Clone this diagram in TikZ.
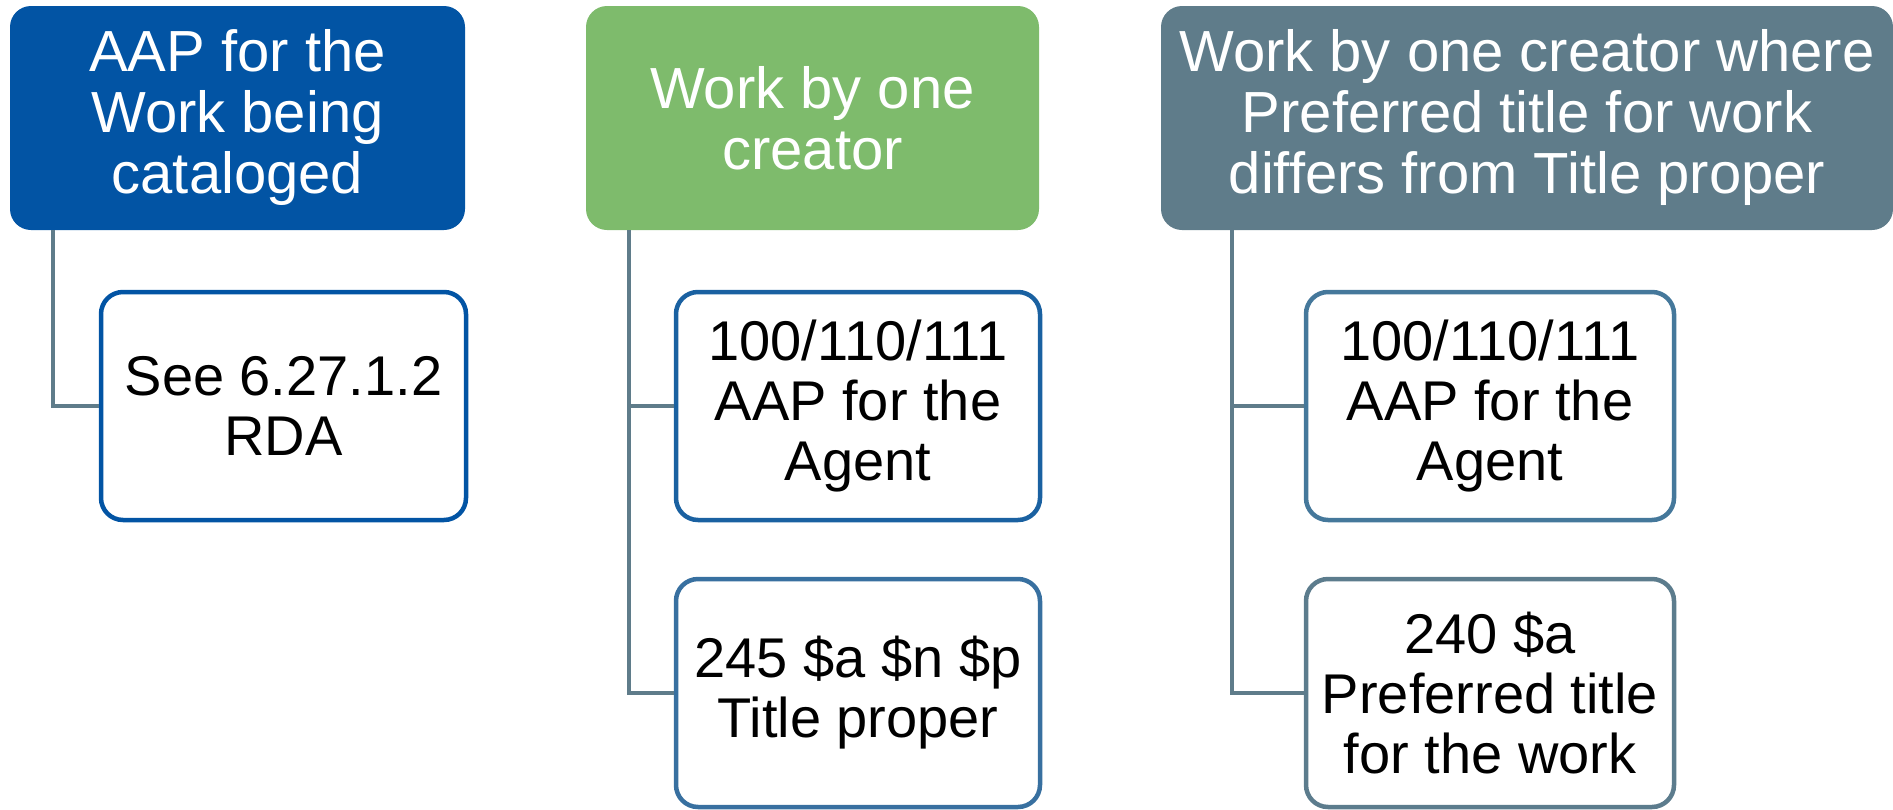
\documentclass[tikz,border=0pt]{standalone}
\usepackage{fontspec}
\setmainfont{Liberation Sans}
\definecolor{hblue}{RGB}{2,84,164}
\definecolor{hgreen}{RGB}{126,187,108}
\definecolor{hslate}{RGB}{95,124,138}
\definecolor{bA}{RGB}{2,84,164}
\definecolor{bB}{RGB}{26,97,161}
\definecolor{bC}{RGB}{56,112,160}
\definecolor{bD}{RGB}{69,120,155}
\definecolor{bE}{RGB}{92,124,141}
\tikzset{
  head/.style={rectangle, rounded corners=21pt, draw=none, text=white, align=center,
    minimum height=224pt, inner sep=0pt,
    font=\fontsize{58}{61}\selectfont},
  child/.style={rectangle, rounded corners=22pt, line width=4.5pt, fill=white, text=black, align=center,
    minimum width=365pt, minimum height=228pt, inner sep=0pt,
    font=\fontsize{56}{60}\selectfont},
  conn/.style={line width=4pt, draw=hslate}
}
\begin{document}
\begin{tikzpicture}[x=1pt,y=-1pt]
\useasboundingbox (0,0) rectangle (1893,809);
\node[head, fill=hblue, minimum width=455pt] (h1) at (237.5,118) {\raisebox{-3pt}{}AAP for the\\Work being\\cataloged};
\node[head, fill=hgreen, minimum width=453pt] (h2) at (812.5,118) {Work by one\\creator};
\node[head, fill=hslate, minimum width=732pt] (h3) at (1527,118) {Work by one creator where\\Preferred title for work\\differs from Title proper};

\node[child, draw=bA] (c1) at (283.5,406) {See 6.27.1.2\\RDA};
\node[child, draw=bB, minimum width=364pt] (c2a) at (858,406) {100/110/111\\AAP for the\\Agent};
\node[child, draw=bC, minimum width=364pt] (c2b) at (858,693) {245 \$a \$n \$p\\Title proper};
\node[child, draw=bD, minimum width=368pt] (c3a) at (1490,406) {100/110/111\\AAP for the\\Agent};
\node[child, draw=bE, minimum width=368pt] (c3b) at (1490,693) {240 \$a\\Preferred title\\for the work};

\draw[conn] ([xshift=43pt]h1.south west) |- (c1.west);
\draw[conn] ([xshift=43pt]h2.south west) |- (c2a.west);
\draw[conn] ([xshift=43pt]h2.south west) |- (c2b.west);
\draw[conn] ([xshift=71pt]h3.south west) |- (c3a.west);
\draw[conn] ([xshift=71pt]h3.south west) |- (c3b.west);
\end{tikzpicture}
\end{document}
